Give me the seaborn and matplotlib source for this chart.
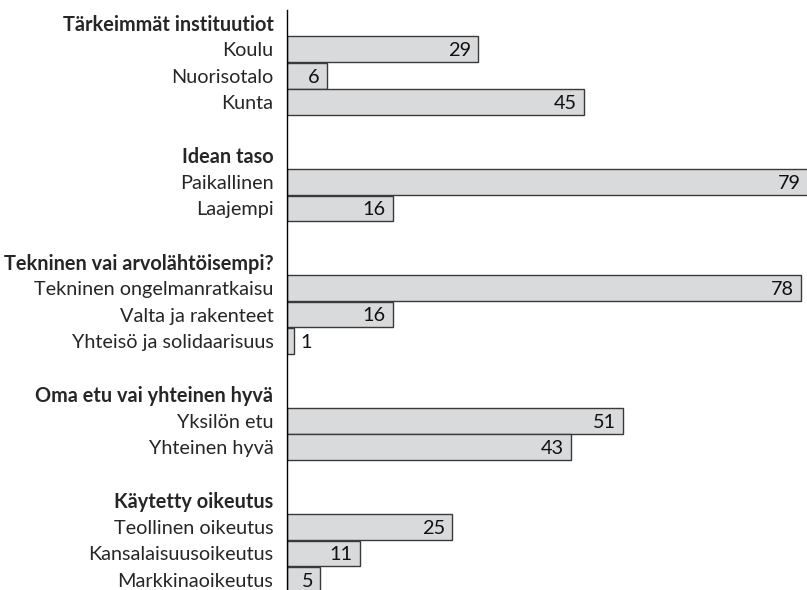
import matplotlib
matplotlib.use('Agg')
import pandas as pd
import matplotlib.pyplot as plt
import seaborn as sns

# data
headers = ['Tärkeimmät instituutiot', 'Idean taso', 'Tekninen vai arvolähtöisempi?',
           'Oma etu vai yhteinen hyvä', 'Käytetty oikeutus']

instituutiot = ['Koulu', 'Nuorisotalo', 'Kunta']
instituutiot_vals = [29, 6, 45]

taso = ['Paikallinen', 'Laajempi']
taso_vals = [79, 16]

tekninen = ['Tekninen ongelmanratkaisu', 'Valta ja rakenteet', 'Yhteisö ja solidaarisuus']
tekninen_vals = [78, 16, 1]

etu = ['Yksilön etu', 'Yhteinen hyvä']
etu_vals = [51, 43]

oikeutus = ['Teollinen oikeutus', 'Kansalaisuusoikeutus', 'Markkinaoikeutus']
oikeutus_vals = [25, 11, 5]

groups = [(instituutiot, instituutiot_vals), (taso, taso_vals), (tekninen, tekninen_vals),
          (etu, etu_vals), (oikeutus, oikeutus_vals)]
gaps = [1, 1, 1, 1, 0]   # blank rows after each group

# build row order (headers + blank spacer rows) and the bar table
order = []
rows = []
blank = 0
for h, (labs, vals), g in zip(headers, groups, gaps):
    order.append(h)
    for l, v in zip(labs, vals):
        order.append(l)
        rows.append({'label': l, 'value': v})
    for _ in range(g):
        blank += 1
        order.append(' ' * blank)
df = pd.DataFrame(rows)

sns.set_style('white')
plt.rcParams['font.family'] = ['Lato', 'DejaVu Sans']
fs = 14.3

fig = plt.figure(figsize=(8.07, 5.9), dpi=100)
ax = fig.add_axes([287.3 / 807, 0, 1 - 287.3 / 807, 1 - 10 / 590])

sns.barplot(data=df, x='value', y='label', order=order, orient='h', ax=ax,
            color='#d9dadc', saturation=1, edgecolor='#3a3a3a', linewidth=1,
            width=0.97, errorbar=None)

ax.set_xlim(0, 78.9)
ax.set_ylim(len(order) - 1 + 0.38, -0.48)
ax.set_xlabel('')
ax.set_ylabel('')
ax.set_xticks([])
ax.tick_params(axis='y', length=0, pad=10, labelsize=fs)
for t in ax.get_yticklabels():
    if t.get_text() in headers:
        t.set_fontweight('bold')

for s in ['top', 'right', 'bottom']:
    ax.spines[s].set_visible(False)
ax.spines['left'].set_color('black')
ax.spines['left'].set_linewidth(1)

# value labels
for i, lab in enumerate(order):
    m = df[df['label'] == lab]
    if m.empty:
        continue
    v = m['value'].iloc[0]
    if v >= 3:
        ax.annotate(str(v), (v, i), xytext=(-5, -1), textcoords='offset points',
                    ha='right', va='center', fontsize=fs, color='#111111',
                    annotation_clip=False)
    else:
        ax.annotate(str(v), (v, i), xytext=(5, -1), textcoords='offset points',
                    ha='left', va='center', fontsize=fs, color='#111111',
                    annotation_clip=False)

plt.savefig('out.png', dpi=100)
